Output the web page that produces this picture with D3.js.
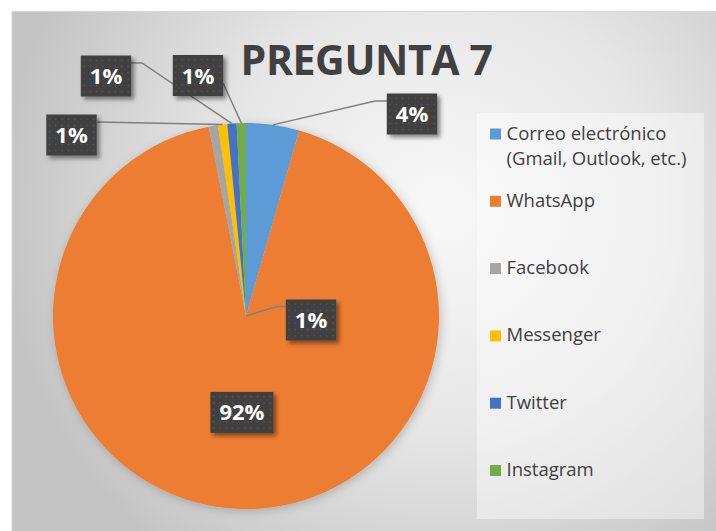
<!DOCTYPE html>
<html>
<head>
<meta charset="utf-8">
<script src="https://cdn.jsdelivr.net/npm/d3@7"></script>
<style>
  body { margin: 0; background: #fff; }
  svg { display: block; }
</style>
</head>
<body>
<div id="chart"></div>
<script>
const width = 716
const height = 531

// --- Data ---
const titleText = "PREGUNTA 7"
const categories = [
  "Correo electrónico (Gmail, Outlook, etc.)",
  "WhatsApp",
  "Facebook",
  "Messenger",
  "Twitter",
  "Instagram"
]
const shares = [4.45, 92.45, 0.775, 0.775, 0.775, 0.775]   // percent
const sliceColors = ["#5B9BD5", "#ED7D31", "#A5A5A5", "#FFC000", "#4472C4", "#70AD47"]

// Where Excel put each data label (px from pie centre), and its leader line.
// leader: "edge" = starts on the slice rim, "centre" = starts at pie centre, null = none
const labelPlacement = [
  { dx: 166, dy: -202, leader: "edge",   elbow: [129, -215], attach: [141, -215] },
  { dx: null, dy: null, leader: null },                       // inside, at centroid
  { dx: 65,  dy: 4,    leader: "centre", elbow: [31, -9.5],  attach: [40, -9.5] },
  { dx: -174.5, dy: -181, leader: "edge", elbow: null,       attach: [-149, -194] },
  { dx: -140, dy: -240, leader: "edge",   elbow: [-104, -253], attach: [-115, -253] },
  { dx: -48,  dy: -240.5, leader: "edge", elbow: null,       attach: [-23, -233] }
]

const pieCx = 246, pieCy = 316, radius = 193

const svg = d3.select("#chart")
  .append("svg")
    .attr("width", width)
    .attr("height", height)

const defs = svg.append("defs")

// background gradient
const bg = defs.append("radialGradient")
  .attr("id", "bg-grad")
  .attr("gradientUnits", "userSpaceOnUse")
  .attr("cx", 440).attr("cy", 210).attr("r", 440)
bg.append("stop").attr("offset", 0).attr("stop-color", "#f8f8f8")
bg.append("stop").attr("offset", 0.5).attr("stop-color", "#e6e6e6")
bg.append("stop").attr("offset", 1).attr("stop-color", "#c4c4c4")

// dotted fill of the label boxes
const pat = defs.append("pattern")
  .attr("id", "dots")
  .attr("patternUnits", "userSpaceOnUse")
  .attr("width", 6.3).attr("height", 6.3)
pat.append("rect").attr("width", 6.3).attr("height", 6.3).attr("fill", "#3f3f3f")
pat.append("circle").attr("cx", 3.15).attr("cy", 3.15).attr("r", 0.9).attr("fill", "#585858")

defs.append("filter").attr("id", "box-shadow")
  .attr("x", "-30%").attr("y", "-30%").attr("width", "170%").attr("height", "170%")
  .append("feDropShadow")
    .attr("dx", 3).attr("dy", 3).attr("stdDeviation", 2)
    .attr("flood-color", "#000").attr("flood-opacity", 0.45)

defs.append("filter").attr("id", "pie-shadow")
  .attr("x", "-20%").attr("y", "-20%").attr("width", "140%").attr("height", "140%")
  .append("feDropShadow")
    .attr("dx", 2).attr("dy", 2).attr("stdDeviation", 5)
    .attr("flood-color", "#000").attr("flood-opacity", 0.2)

// chart area
svg.append("rect")
  .attr("x", 12).attr("y", 11)
  .attr("width", width - 12).attr("height", height - 11)
  .attr("fill", "url(#bg-grad)")
svg.append("path")
  .attr("d", `M12,${height} V11.5 H${width}`)
  .attr("fill", "none")
  .attr("stroke", "#d6d6d6")

// legend panel
svg.append("rect")
  .attr("x", 477).attr("y", 113)
  .attr("width", 227).attr("height", 406)
  .attr("fill", "#fff").attr("opacity", 0.42)

// title
svg.append("text")
  .attr("x", 366.5).attr("y", 75)
  .attr("text-anchor", "middle")
  .attr("font-family", "'Open Sans', sans-serif")
  .attr("font-weight", 700)
  .attr("font-size", 41)
  .attr("letter-spacing", -0.4)
  .attr("fill", "#404040")
  .text(titleText)

// --- Pie ---
const pie = d3.pie().sort(null).value(d => d)
const arcs = pie(shares)
const arc = d3.arc().innerRadius(0).outerRadius(radius)
const midArc = d3.arc().innerRadius(radius / 2).outerRadius(radius / 2)

const pieG = svg.append("g")
  .attr("transform", `translate(${pieCx},${pieCy})`)

pieG.append("g")
  .attr("filter", "url(#pie-shadow)")
  .selectAll("path")
  .data(arcs)
  .join("path")
    .attr("d", arc)
    .attr("fill", (d, i) => sliceColors[i])

// leader lines
const rimPoint = d => {
  const a = (d.startAngle + d.endAngle) / 2
  return [radius * Math.sin(a), -radius * Math.cos(a)]
}

arcs.forEach((d, i) => {
  const p = labelPlacement[i]
  if (!p.leader) return
  const pts = [p.leader === "centre" ? [0, 0] : rimPoint(d)]
  if (p.elbow) pts.push(p.elbow)
  pts.push(p.attach)
  pieG.append("path")
    .attr("d", d3.line()(pts))
    .attr("fill", "none")
    .attr("stroke", "#7f7f7f")
    .attr("stroke-width", 1.5)
})

// data labels
const fmt = v => `${Math.round(v)}%`
arcs.forEach((d, i) => {
  const p = labelPlacement[i]
  const [x, y] = p.dx === null ? midArc.centroid(d) : [p.dx, p.dy]
  const g = pieG.append("g").attr("transform", `translate(${x},${y})`)
  const t = g.append("text")
    .attr("text-anchor", "middle")
    .attr("y", 8)
    .attr("font-family", "'Open Sans', sans-serif")
    .attr("font-weight", 700)
    .attr("font-size", 22)
    .attr("fill", "#fff")
    .text(fmt(shares[i]))
  const w = t.node().getComputedTextLength() + 18
  g.insert("rect", "text")
    .attr("x", -w / 2).attr("y", -20.5)
    .attr("width", w).attr("height", 41)
    .attr("fill", "url(#dots)")
    .attr("filter", "url(#box-shadow)")
})

// --- Legend ---
const legendY = d3.scaleLinear().domain([0, categories.length - 1]).range([139.5, 476])

const legend = svg.append("g")
  .selectAll("g")
  .data(categories)
  .join("g")
    .attr("transform", (d, i) => `translate(490,${legendY(i)})`)

legend.append("rect")
  .attr("x", 0).attr("y", -11)
  .attr("width", 11).attr("height", 11)
  .attr("fill", (d, i) => sliceColors[i])

legend.append("text")
  .attr("font-family", "'Open Sans', sans-serif")
  .attr("font-size", 18.5)
  .attr("fill", "#404040")
  .selectAll("tspan")
  .data(d => d.includes(" (") ? [d.slice(0, d.indexOf(" (")), d.slice(d.indexOf(" (") + 1)] : [d])
  .join("tspan")
    .attr("x", 16.5)
    .attr("dy", (d, i) => i === 0 ? 0 : 25.5)
    .text(d => d)
</script>
</body>
</html>
